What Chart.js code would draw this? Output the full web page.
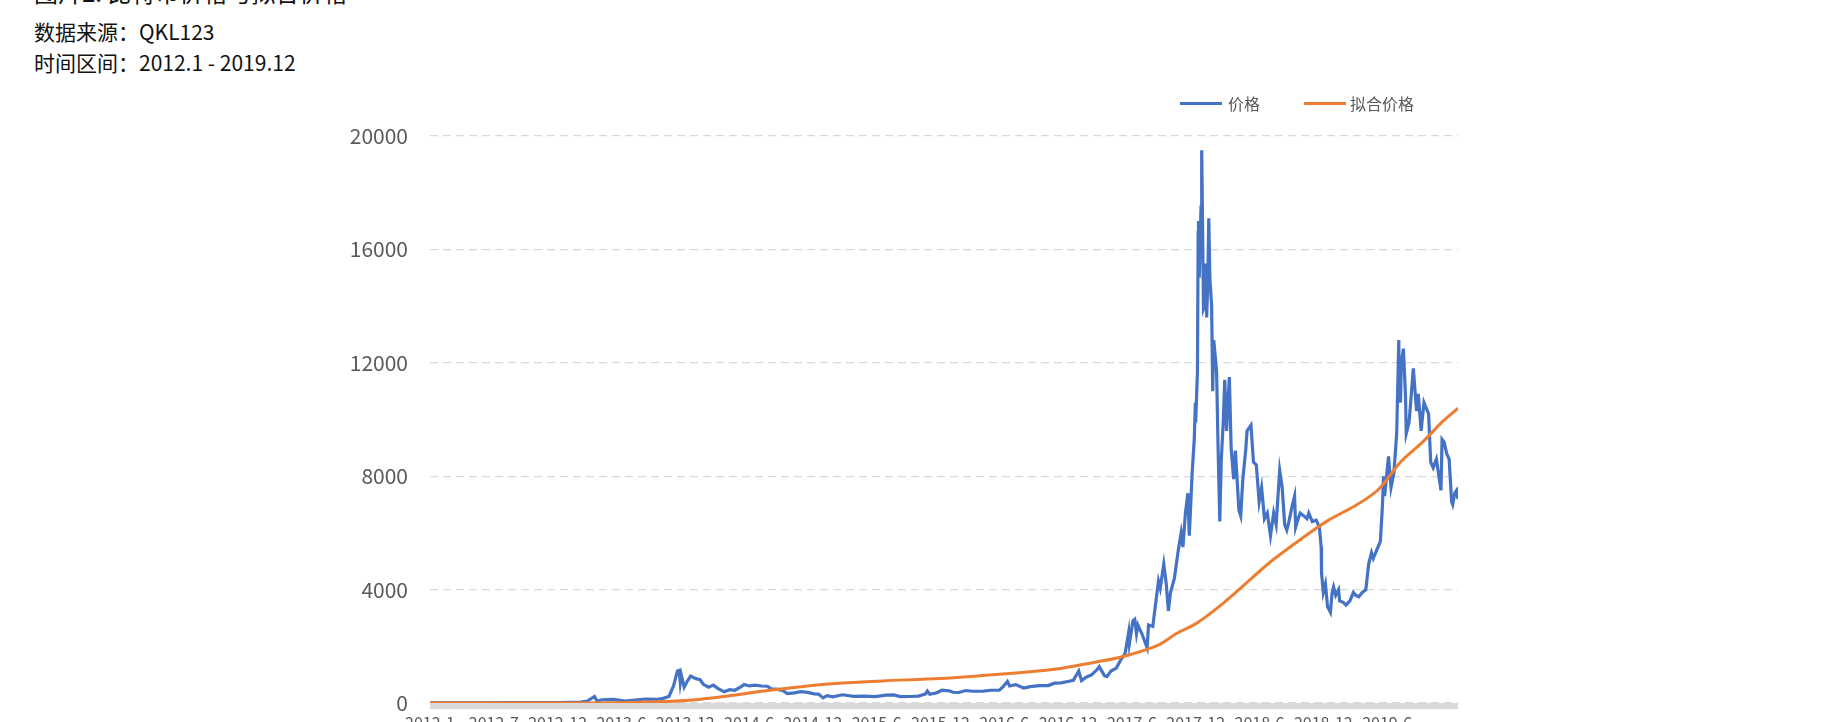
<!DOCTYPE html>
<html>
<head>
<meta charset="utf-8">
<script src="https://cdn.jsdelivr.net/npm/chart.js@4.4.1/dist/chart.umd.min.js"></script>
<style>
  html, body { margin: 0; padding: 0; background: #fff; }
  body { width: 1842px; height: 722px; overflow: hidden; position: relative; font-family: "Noto Sans CJK SC", "Noto Sans", sans-serif; }
  .txt { position: absolute; left: 34px; white-space: nowrap; color: #111; }
  #title { top: -20px; font-size: 24px; line-height: 24px; }
  #src { top: 21px; font-size: 21px; line-height: 21px; }
  #range { top: 52px; font-size: 21px; line-height: 21px; }
  #legend { position: absolute; top: 93px; left: 1180px; font-size: 16px; line-height: 20px; color: #595959; white-space: nowrap; }
  .lg { position: absolute; top: 0; }
  .sw { position: absolute; top: 9px; width: 42px; height: 3px; }
  #chartWrap { position: absolute; left: 0; top: 0; width: 1842px; height: 780px; }
</style>
</head>
<body>
<div id="title" class="txt">图片2: 比特币价格与拟合价格</div>
<div id="src" class="txt">数据来源：QKL123</div>
<div id="range" class="txt">时间区间：2012.1 - 2019.12</div>
<div id="chartWrap"><canvas id="c" width="1842" height="780"></canvas></div>
<div id="legend">
  <span class="sw" style="left:0;background:#4472C4"></span><span class="lg" style="left:48px">价格</span>
  <span class="sw" style="left:124px;background:#ED7D31"></span><span class="lg" style="left:170px">拟合价格</span>
</div>
<script>
// ---------- data ----------
const startDate = '2012-01-01';
const endDate = '2019-12-10';
const tickIntervalDays = 180;
const tickLabels = ['2012-1','2012-7','2012-12','2013-6','2013-12','2014-6','2014-12','2015-6','2015-12','2016-6','2016-12','2017-6','2017-12','2018-6','2018-12','2019-6'];

const priceDates = [
'2012-01-01','2012-03-01','2012-06-01','2012-08-15','2012-10-01','2013-01-01','2013-02-01','2013-03-01','2013-03-20','2013-04-09','2013-04-16','2013-05-01','2013-06-01','2013-07-05','2013-08-01','2013-09-01','2013-10-01','2013-10-20','2013-11-05','2013-11-18','2013-11-29','2013-12-04','2013-12-07','2013-12-10','2013-12-18','2013-12-26',
'2014-01-05','2014-01-20','2014-02-01','2014-02-10','2014-02-25','2014-03-10','2014-03-25','2014-04-10','2014-04-25','2014-05-10','2014-05-28','2014-06-05','2014-06-20','2014-07-05','2014-07-25','2014-08-10','2014-08-20','2014-09-10','2014-09-25','2014-10-05','2014-10-25','2014-11-12','2014-12-01','2014-12-20',
'2015-01-01','2015-01-14','2015-01-25','2015-02-10','2015-03-10','2015-04-10','2015-05-10','2015-06-10','2015-07-10','2015-08-01','2015-08-20','2015-09-15','2015-10-10','2015-10-30','2015-11-04','2015-11-11','2015-12-01','2015-12-15',
'2016-01-05','2016-01-15','2016-02-01','2016-02-20','2016-03-10','2016-04-10','2016-05-01','2016-05-25','2016-06-05','2016-06-17','2016-06-23','2016-07-10','2016-08-02','2016-08-20','2016-09-15','2016-10-10','2016-10-28','2016-11-15','2016-12-01','2016-12-20',
'2017-01-04','2017-01-12','2017-01-25','2017-02-10','2017-02-25','2017-03-03','2017-03-18','2017-03-25','2017-04-05','2017-04-20','2017-05-04','2017-05-15','2017-05-25','2017-05-27','2017-06-06','2017-06-11','2017-06-16','2017-06-20','2017-07-01','2017-07-16','2017-07-20','2017-08-01','2017-08-08','2017-08-17','2017-08-22','2017-09-01','2017-09-08','2017-09-14','2017-09-20','2017-10-01','2017-10-12','2017-10-20','2017-10-25','2017-11-01','2017-11-08','2017-11-12','2017-11-20','2017-11-26','2017-11-29','2017-11-30','2017-12-05','2017-12-07','2017-12-08','2017-12-10','2017-12-15','2017-12-17','2017-12-19','2017-12-22','2017-12-25','2017-12-28','2017-12-31',
'2018-01-03','2018-01-06','2018-01-09','2018-01-14','2018-01-17','2018-01-20','2018-01-28','2018-02-01','2018-02-06','2018-02-10','2018-02-16','2018-02-20','2018-02-25','2018-03-05','2018-03-10','2018-03-17','2018-03-22','2018-04-01','2018-04-06','2018-04-12','2018-04-20','2018-04-24','2018-05-05','2018-05-12','2018-05-20','2018-05-28','2018-06-04','2018-06-12','2018-06-20','2018-06-29','2018-07-08','2018-07-15','2018-07-25','2018-08-01','2018-08-08','2018-08-14','2018-08-20','2018-08-30','2018-09-05','2018-09-08','2018-09-15','2018-09-21','2018-10-01','2018-10-10','2018-10-15','2018-10-25','2018-11-05','2018-11-14','2018-11-19','2018-11-20','2018-11-25','2018-12-01','2018-12-07','2018-12-15','2018-12-20','2018-12-24','2018-12-30',
'2019-01-07','2019-01-10','2019-01-20','2019-01-28','2019-02-08','2019-02-18','2019-02-24','2019-03-05','2019-03-15','2019-03-25','2019-04-02','2019-04-10','2019-04-15','2019-04-25','2019-05-05','2019-05-11','2019-05-14','2019-05-17','2019-05-28','2019-06-04','2019-06-12','2019-06-20','2019-06-26','2019-06-27','2019-07-01','2019-07-03','2019-07-09','2019-07-15','2019-07-17','2019-07-25','2019-08-06','2019-08-15','2019-08-20','2019-08-28','2019-09-05','2019-09-18','2019-09-24','2019-10-01','2019-10-10','2019-10-23','2019-10-26','2019-11-01','2019-11-08','2019-11-15','2019-11-22','2019-11-25','2019-12-01','2019-12-06','2019-12-10'
];
const prices = [
5,5,5,13,12,13,20,34,70,230,70,115,128,70,105,140,125,165,230,600,1130,1150,720,980,560,750,
950,860,820,660,560,630,500,400,470,450,580,650,600,630,600,590,500,480,420,330,360,400,375,320,
315,180,260,220,290,235,240,228,280,285,225,230,245,320,420,310,360,450,
430,380,370,440,415,420,450,450,580,760,600,650,530,575,610,615,700,710,750,800,
1130,790,910,1000,1180,1280,960,940,1130,1230,1550,1750,2500,2100,2900,2950,2450,2750,2450,1950,2750,2700,3400,4300,4050,4900,4200,3250,3900,4400,5400,6000,5500,6700,7400,5900,8100,9300,10600,9900,11700,16600,17000,15000,17500,19500,17300,13900,14000,15500,13600,
14800,17100,15000,14000,11000,12800,11700,9100,6400,8500,10000,11400,9600,11500,9000,7900,8900,6800,6600,7900,8900,9600,9800,8500,8400,7100,7600,6500,6700,5900,6700,6300,8200,7600,6300,6100,6400,7000,7300,6200,6500,6700,6600,6500,6700,6400,6450,6200,5500,4600,3900,4200,3400,3200,3900,4100,3800,
4000,3600,3550,3450,3600,3900,3800,3750,3900,4000,4900,5300,5100,5400,5700,7000,8000,7300,8700,7600,8100,9500,12800,11000,10600,12000,12500,10800,9500,9900,11800,10300,10900,9600,10600,10200,8500,8300,8600,7500,9300,9200,8800,8600,7100,7000,7400,7500,7200
];

const fitDates = ['2012-01-01','2013-01-01','2013-06-01','2013-10-01','2014-01-10','2014-04-20','2014-08-10','2014-12-01','2015-03-20','2015-07-01','2015-12-10','2016-03-30','2016-07-20','2016-11-01','2017-02-20','2017-05-10','2017-08-15','2017-10-07','2017-12-01','2018-01-25','2018-04-01','2018-07-01','2018-09-25','2018-12-10','2019-03-01','2019-05-01','2019-07-01','2019-09-01','2019-10-25','2019-12-10'];
const fitValues = [0,0,10,40,110,250,440,600,710,780,865,960,1070,1200,1440,1640,2030,2450,2800,3300,4000,5000,5800,6450,7000,7550,8500,9200,9900,10400];

// ---------- helpers ----------
function dayIndex(s) {
  const [y, m, d] = s.split('-').map(Number);
  const [y0, m0, d0] = startDate.split('-').map(Number);
  return Math.round((Date.UTC(y, m - 1, d) - Date.UTC(y0, m0 - 1, d0)) / 86400000);
}
const priceData = priceDates.map((d, i) => ({ x: dayIndex(d), y: prices[i] }));
const fitData = fitDates.map((d, i) => ({ x: dayIndex(d), y: fitValues[i] }));
const xMax = dayIndex(endDate);

const CHART_LEFT = 430, CHART_RIGHT = 1458, CHART_TOP = 136, CHART_BOTTOM = 703, CANVAS_H = 780;
const FONT = '"Noto Sans CJK SC", "Noto Sans", sans-serif';

const bandPlugin = {
  id: 'band',
  beforeDatasetsDraw(chart) {
    const { ctx, chartArea } = chart;
    ctx.save();
    ctx.fillStyle = '#d9d9d9';
    ctx.fillRect(chartArea.left, chartArea.bottom, chartArea.right - chartArea.left, 6);
    ctx.restore();
  }
};

new Chart(document.getElementById('c'), {
  type: 'line',
  data: {
    datasets: [
      { label: '价格', data: priceData, borderColor: '#4472C4', backgroundColor: '#4472C4', borderWidth: 3.2, pointRadius: 0, tension: 0, order: 1 },
      { label: '拟合价格', data: fitData, borderColor: '#ED7D31', backgroundColor: '#ED7D31', borderWidth: 3, pointRadius: 0, tension: 0.3, order: 0 }
    ]
  },
  options: {
    responsive: false,
    animation: false,
    devicePixelRatio: 1,
    layout: { padding: { left: 0, right: 1842 - CHART_RIGHT, top: CHART_TOP, bottom: 0 } },
    plugins: { legend: { display: false }, tooltip: { enabled: false } },
    scales: {
      x: {
        type: 'linear',
        min: 0,
        max: xMax,
        grid: { display: false, drawTicks: false },
        border: { display: false },
        afterBuildTicks(scale) { scale.ticks = tickLabels.map((l, i) => ({ value: i * tickIntervalDays })); },
        afterFit(scale) { scale.height = CANVAS_H - CHART_BOTTOM; },
        ticks: {
          autoSkip: false, maxRotation: 0, minRotation: 0, padding: 10,
          color: '#595959', font: { family: FONT, size: 16 },
          callback: (v, i) => tickLabels[i]
        }
      },
      y: {
        min: 0,
        max: 20000,
        afterFit(scale) { scale.width = CHART_LEFT; },
        grid: { color: '#d9d9d9', lineWidth: 1.3, drawTicks: false },
        border: { display: false, dash: [8, 5] },
        ticks: {
          stepSize: 4000, padding: 22,
          color: '#595959', font: { family: FONT, size: 21 },
          callback: (v) => String(v)
        }
      }
    }
  },
  plugins: [bandPlugin]
});
</script>
</body>
</html>
